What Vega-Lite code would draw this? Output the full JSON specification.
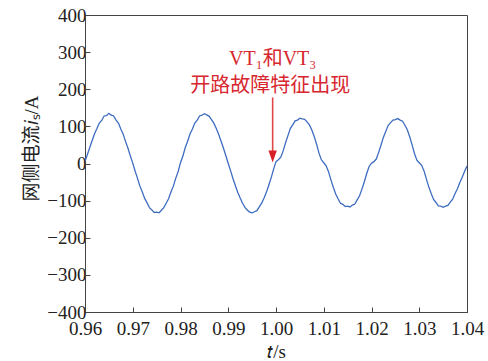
{
  "$schema": "https://vega.github.io/schema/vega-lite/v6.json",
  "width": 382,
  "height": 297,
  "autosize": "none",
  "padding": {"left": 85, "top": 15, "right": 21, "bottom": 49},
  "background": "white",
  "config": {
    "view": {"stroke": "#444444", "strokeWidth": 1},
    "axis": {
      "grid": false,
      "domainColor": "#444444",
      "tickColor": "#444444",
      "tickSize": -5,
      "labelFont": "Liberation Serif",
      "labelFontSize": 19,
      "labelColor": "#222222",
      "titleFont": "Liberation Serif, Noto Sans CJK SC",
      "titleFontSize": 19,
      "titleFontWeight": "normal",
      "titleColor": "#222222"
    }
  },
  "datasets": {
    "wave": [
      {"t":0.9600,"i":6},{"t":0.9605,"i":24},{"t":0.9610,"i":43},{"t":0.9615,"i":62},{"t":0.9620,"i":80},
      {"t":0.9625,"i":94},{"t":0.9630,"i":109},{"t":0.9635,"i":116},{"t":0.9640,"i":128},{"t":0.9645,"i":129},
      {"t":0.9650,"i":135},{"t":0.9655,"i":130},{"t":0.9660,"i":128},{"t":0.9665,"i":117},{"t":0.9670,"i":109},
      {"t":0.9675,"i":93},{"t":0.9680,"i":79},{"t":0.9685,"i":59},{"t":0.9690,"i":41},{"t":0.9695,"i":20},
      {"t":0.9700,"i":1},{"t":0.9705,"i":-21},{"t":0.9710,"i":-40},{"t":0.9715,"i":-61},{"t":0.9720,"i":-77},
      {"t":0.9725,"i":-94},{"t":0.9730,"i":-106},{"t":0.9735,"i":-119},{"t":0.9740,"i":-125},{"t":0.9745,"i":-132},
      {"t":0.9750,"i":-131},{"t":0.9755,"i":-133},{"t":0.9760,"i":-126},{"t":0.9765,"i":-119},{"t":0.9770,"i":-107},
      {"t":0.9775,"i":-95},{"t":0.9780,"i":-77},{"t":0.9785,"i":-61},{"t":0.9790,"i":-40},{"t":0.9795,"i":-22},
      {"t":0.9800,"i":2},{"t":0.9805,"i":20},{"t":0.9810,"i":43},{"t":0.9815,"i":60},{"t":0.9820,"i":80},
      {"t":0.9825,"i":93},{"t":0.9830,"i":109},{"t":0.9835,"i":117},{"t":0.9840,"i":128},{"t":0.9845,"i":130},
      {"t":0.9850,"i":134},{"t":0.9855,"i":131},{"t":0.9860,"i":127},{"t":0.9865,"i":118},{"t":0.9870,"i":108},
      {"t":0.9875,"i":94},{"t":0.9880,"i":78},{"t":0.9885,"i":60},{"t":0.9890,"i":41},{"t":0.9895,"i":21},
      {"t":0.9900,"i":0},{"t":0.9905,"i":-20},{"t":0.9910,"i":-41},{"t":0.9915,"i":-60},{"t":0.9920,"i":-78},
      {"t":0.9925,"i":-93},{"t":0.9930,"i":-107},{"t":0.9935,"i":-118},{"t":0.9940,"i":-126},{"t":0.9945,"i":-131},
      {"t":0.9950,"i":-133},{"t":0.9955,"i":-130},{"t":0.9960,"i":-127},{"t":0.9965,"i":-117},{"t":0.9970,"i":-107},
      {"t":0.9975,"i":-93},{"t":0.9980,"i":-77},{"t":0.9985,"i":-58},{"t":0.9990,"i":-38},{"t":0.9995,"i":-15},
      {"t":1.0000,"i":5},{"t":1.0005,"i":10},{"t":1.0010,"i":17},{"t":1.0015,"i":34},{"t":1.0020,"i":56},
      {"t":1.0025,"i":75},{"t":1.0030,"i":94},{"t":1.0035,"i":104},{"t":1.0040,"i":115},{"t":1.0045,"i":117},
      {"t":1.0050,"i":122},{"t":1.0055,"i":120},{"t":1.0060,"i":119},{"t":1.0065,"i":112},{"t":1.0070,"i":104},
      {"t":1.0075,"i":90},{"t":1.0080,"i":73},{"t":1.0085,"i":52},{"t":1.0090,"i":28},{"t":1.0095,"i":10},
      {"t":1.0100,"i":2},{"t":1.0105,"i":-6},{"t":1.0110,"i":-22},{"t":1.0115,"i":-44},{"t":1.0120,"i":-64},
      {"t":1.0125,"i":-82},{"t":1.0130,"i":-95},{"t":1.0135,"i":-107},{"t":1.0140,"i":-110},{"t":1.0145,"i":-116},
      {"t":1.0150,"i":-115},{"t":1.0155,"i":-117},{"t":1.0160,"i":-112},{"t":1.0165,"i":-109},{"t":1.0170,"i":-98},
      {"t":1.0175,"i":-87},{"t":1.0180,"i":-69},{"t":1.0185,"i":-49},{"t":1.0190,"i":-27},{"t":1.0195,"i":-8},
      {"t":1.0200,"i":1},{"t":1.0205,"i":5},{"t":1.0210,"i":12},{"t":1.0215,"i":30},{"t":1.0220,"i":50},
      {"t":1.0225,"i":71},{"t":1.0230,"i":87},{"t":1.0235,"i":103},{"t":1.0240,"i":110},{"t":1.0245,"i":117},
      {"t":1.0250,"i":118},{"t":1.0255,"i":121},{"t":1.0260,"i":117},{"t":1.0265,"i":114},{"t":1.0270,"i":103},
      {"t":1.0275,"i":91},{"t":1.0280,"i":72},{"t":1.0285,"i":50},{"t":1.0290,"i":27},{"t":1.0295,"i":9},
      {"t":1.0300,"i":2},{"t":1.0305,"i":-5},{"t":1.0310,"i":-20},{"t":1.0315,"i":-42},{"t":1.0320,"i":-63},
      {"t":1.0325,"i":-81},{"t":1.0330,"i":-97},{"t":1.0335,"i":-105},{"t":1.0340,"i":-114},{"t":1.0345,"i":-115},
      {"t":1.0350,"i":-118},{"t":1.0355,"i":-115},{"t":1.0360,"i":-113},{"t":1.0365,"i":-104},{"t":1.0370,"i":-96},
      {"t":1.0375,"i":-81},{"t":1.0380,"i":-68},{"t":1.0385,"i":-51},{"t":1.0390,"i":-37},{"t":1.0395,"i":-21},
      {"t":1.0400,"i":-7}
    ],
    "arrow": [{"t": 0.9993, "i": 178, "i2": 30}],
    "head": [{"t": 0.9993, "i": 19}],
    "notes": [
      {"t": 0.9993, "i": 266, "label": "VT₁和VT₃"},
      {"t": 0.9988, "i": 192, "label": "开路故障特征出现"}
    ]
  },
  "encoding": {
    "x": {
      "field": "t", "type": "quantitative",
      "scale": {"domain": [0.96, 1.04], "nice": false, "zero": false},
      "axis": {"values": [0.96,0.97,0.98,0.99,1.0,1.01,1.02,1.03,1.04], "format": ".2f", "title": "𝑡/s", "labelPadding": 12, "titlePadding": 4, "labelFlush": false}
    },
    "y": {
      "field": "i", "type": "quantitative",
      "scale": {"domain": [-400, 400], "nice": false, "zero": false},
      "axis": {"values": [-400,-300,-200,-100,0,100,200,300,400], "title": "网侧电流𝑖ₛ/A", "labelPadding": 4, "titlePadding": 5, "titleY": 133, "labelFlush": false}
    }
  },
  "layer": [
    {
      "data": {"name": "wave"},
      "mark": {"type": "line", "color": "#3d6cc0", "strokeWidth": 1.3, "clip": true}
    },
    {
      "data": {"name": "arrow"},
      "mark": {"type": "rule", "color": "#e04848", "strokeWidth": 1.6},
      "encoding": {"y2": {"field": "i2"}}
    },
    {
      "data": {"name": "head"},
      "mark": {"type": "point", "shape": "M-0.7,-1L0.7,-1L0,1Z", "filled": true, "color": "#d8202a", "opacity": 1, "size": 144}
    },
    {
      "data": {"name": "notes"},
      "mark": {"type": "text", "color": "#d7262e", "font": "Liberation Serif, Noto Sans CJK SC", "fontSize": 20, "align": "center", "baseline": "alphabetic"},
      "encoding": {"text": {"field": "label"}}
    }
  ]
}
